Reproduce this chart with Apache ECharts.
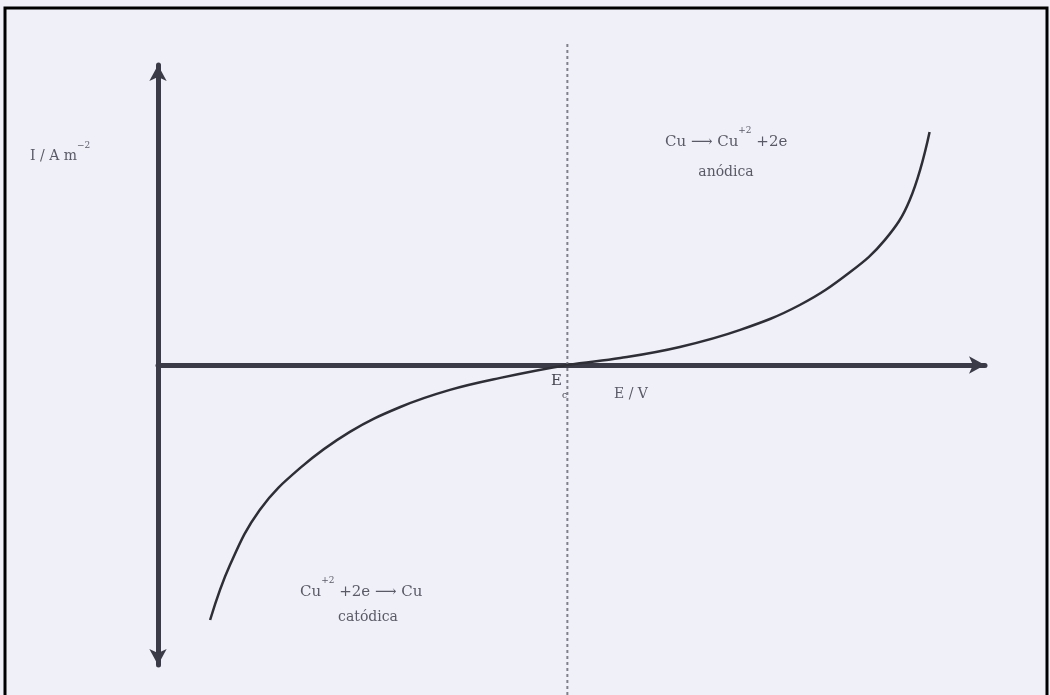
<!DOCTYPE html>
<html>
<head>
<meta charset="utf-8">
<title>Curva de polarización I–E</title>
<script src="https://cdn.jsdelivr.net/npm/echarts@6/dist/echarts.min.js"></script>
<style>
  html, body { margin: 0; padding: 0; background: #eff0f8; }
  #chart { width: 1050px; height: 695px; }
</style>
</head>
<body>
<div id="chart"></div>
<script>
// Potential (arbitrary units along E axis)
const potential = [6.3, 8.7, 12.3, 17.2, 23.2, 29.3, 35.3, 41.4, 49.5, 55.9, 63.1, 70.4, 77.6, 83.7, 87.9, 90.9, 93.3];
// Current density (arbitrary units, cathodic negative, anodic positive)
const current = [-85, -66.7, -48.3, -34.3, -22.3, -14, -8.3, -4.3, 0, 2.3, 6, 11.7, 20, 31, 41.7, 55, 77.7];
// Equilibrium / corrosion potential and the extent of its guide line
const eCorr = 49.5;
const guideSpan = [-110, 107];

const curveData = potential.map((e, i) => [e, current[i]]);
const guideData = guideSpan.map(v => [eCorr, v]);

const ink = '#3b3b47';
const textColor = '#5a5a66';
const serif = '"DejaVu Serif", "Liberation Serif", serif';

const chart = echarts.init(document.getElementById('chart'), null, { renderer: 'canvas' });

chart.setOption({
  backgroundColor: '#eff0f8',
  animation: false,
  grid: { left: 158, right: 65, top: 65, bottom: 30 },
  xAxis: {
    type: 'value', min: 0, max: 100,
    axisLine: {
      onZero: true,
      lineStyle: { color: ink, width: 5 },
      symbol: ['none', 'arrow'], symbolSize: [13, 16]
    },
    axisTick: { show: false }, axisLabel: { show: false }, splitLine: { show: false }
  },
  yAxis: {
    type: 'value', min: -100, max: 100,
    axisLine: {
      onZero: true,
      lineStyle: { color: ink, width: 5 },
      symbol: ['arrow', 'arrow'], symbolSize: [13, 16]
    },
    axisTick: { show: false }, axisLabel: { show: false }, splitLine: { show: false }
  },
  series: [
    {
      type: 'line', data: guideData, clip: false, symbol: 'none', silent: true,
      lineStyle: { color: '#80808c', width: 2, type: [3, 3] }, z: 1
    },
    {
      type: 'line', data: curveData, smooth: 0.4, symbol: 'none', clip: false,
      lineStyle: { color: '#2e2e36', width: 2.5 }, z: 3
    }
  ],
  graphic: [
    { type: 'rect', shape: { x: 5, y: 8, width: 1042, height: 700 },
      style: { fill: 'none', stroke: '#000', lineWidth: 3 }, z: 100 },
    { type: 'text', left: 30, top: 141, z: 50,
      style: { text: '{m|I / A m}{s|−2}', rich: {
        m: { fontFamily: serif, fontSize: 14, fill: textColor, verticalAlign: 'bottom', lineHeight: 22 },
        s: { fontFamily: serif, fontSize: 9, fill: textColor, verticalAlign: 'top', lineHeight: 22 } } } },
    { type: 'text', left: 665, top: 126, z: 50,
      style: { text: '{m|Cu }{a|⟶}{m| Cu}{s|+2}{m| +2e}', rich: {
        m: { fontFamily: serif, fontSize: 15, fill: textColor, verticalAlign: 'bottom', lineHeight: 24 },
        a: { fontFamily: serif, fontSize: 15, fill: textColor, verticalAlign: 'bottom', lineHeight: 20 },
        s: { fontFamily: serif, fontSize: 9, fill: textColor, verticalAlign: 'top', lineHeight: 24 } } } },
    { type: 'text', x: 726, y: 172, z: 50,
      style: { text: 'anódica', fontFamily: serif, fontSize: 14, fill: textColor, align: 'center', verticalAlign: 'middle' } },
    { type: 'text', left: 300, top: 576, z: 50,
      style: { text: '{m|Cu}{s|+2}{m| +2e }{a|⟶}{m| Cu}', rich: {
        m: { fontFamily: serif, fontSize: 15, fill: textColor, verticalAlign: 'bottom', lineHeight: 24 },
        a: { fontFamily: serif, fontSize: 15, fill: textColor, verticalAlign: 'bottom', lineHeight: 20 },
        s: { fontFamily: serif, fontSize: 9, fill: textColor, verticalAlign: 'top', lineHeight: 24 } } } },
    { type: 'text', x: 368, y: 617, z: 50,
      style: { text: 'catódica', fontFamily: serif, fontSize: 14, fill: textColor, align: 'center', verticalAlign: 'middle' } },
    { type: 'text', x: 631, y: 394, z: 50,
      style: { text: 'E / V', fontFamily: serif, fontSize: 14, fill: textColor, align: 'center', verticalAlign: 'middle' } },
    { type: 'text', left: 551, top: 374, z: 50,
      style: { text: '{m|E}{s|c}', rich: {
        m: { fontFamily: serif, fontSize: 15, fill: '#44444f', verticalAlign: 'top', lineHeight: 18 },
        s: { fontFamily: serif, fontSize: 9, fill: '#44444f', verticalAlign: 'bottom', lineHeight: 26 } } } }
  ]
});
</script>
</body>
</html>
